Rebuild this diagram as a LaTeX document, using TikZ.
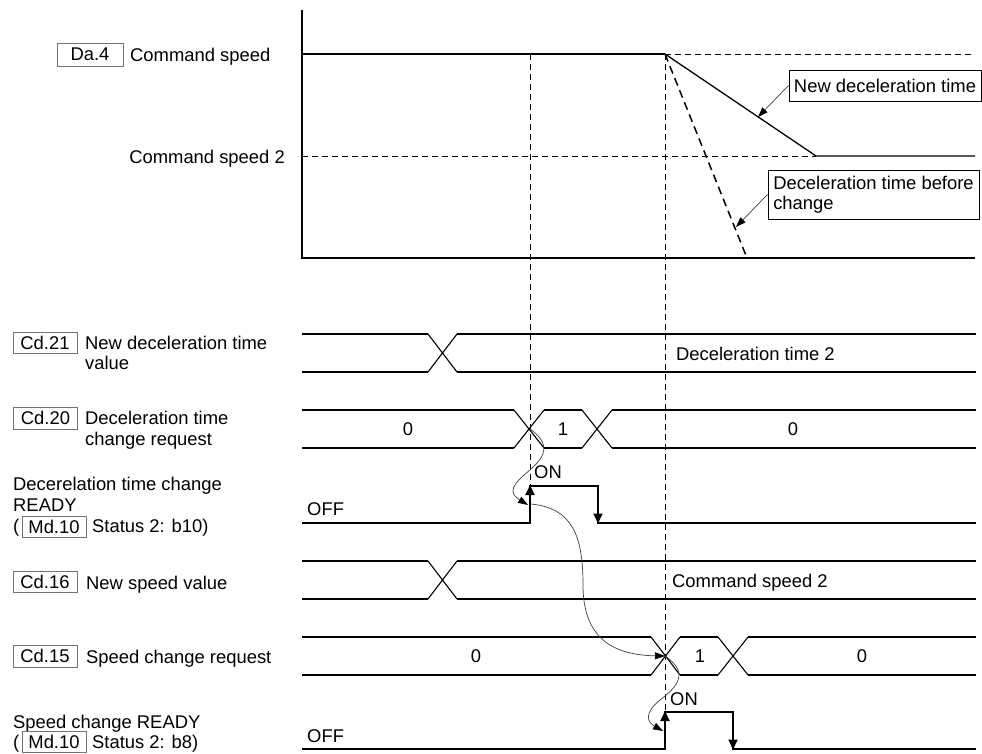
\documentclass[tikz,border=0pt]{standalone}
\usepackage{fontspec}
\setmainfont{Liberation Sans}
\usetikzlibrary{arrows.meta}
\begin{document}
\begin{tikzpicture}[x=1pt,y=-1pt,
  every node/.style={font=\fontsize{18.4}{20.5}\selectfont, inner sep=0pt},
  sig/.style={line width=1.8pt},
  xline/.style={line width=1.1pt},
  grid/.style={line width=0.9pt, dash pattern=on 6pt off 4pt},
  tag/.style={draw=black!55, line width=0.8pt, minimum width=64pt, minimum height=21pt, inner sep=0pt},
  callout/.style={draw, line width=1pt, inner sep=0pt, align=left},
  link/.style={black!75, line width=0.7pt, -{Triangle[length=10pt,width=7pt,color=black,fill=black]}},
  head/.style={sig, -{Triangle[length=10pt,width=9pt]}},
  lbl/.style={anchor=base west},
]
\useasboundingbox (0,0) rectangle (982,753);

% ---------------- top speed chart ----------------
\draw[line width=1.2pt] (302,10) -- (302,258) -- (975,258);
\draw[line width=1.5pt] (302,54) -- (665,54);
\draw[grid] (665,54) -- (975,54);
\draw[grid] (302,156) -- (816,156);
\draw[line width=1.3pt] (665,54) -- (816,156) -- (975,156);
\draw[line width=1.5pt, dash pattern=on 8pt off 5pt] (665,54) -- (747,258);

% vertical time markers
\draw[grid] (530,54) -- (530,486);
\draw[grid] (665,54) -- (665,712);

% callouts
\node[callout, minimum width=192pt, minimum height=31pt] (nd) at (885,85.5) {New deceleration time};
\node[callout, minimum width=211pt, minimum height=49pt] (bc) at (873.5,194.5) {Deceleration time before\\change};
\coordinate (p1) at (758,117);
\coordinate (p2) at (736,227);
\draw[link] (nd.west) -- (p1);
\draw[link] (bc.west) -- (p2);

% left labels of chart
\node[tag, minimum width=66pt, minimum height=23pt] (da4) at (90,54.5) {Da.4};
\node[lbl] (cs) at (130,61) {Command speed};
\node[anchor=base east] (cs2) at (285,163) {Command speed 2};

% ---------------- Cd.21 ----------------
\node[tag] (cd21) at (45,342.5) {Cd.21};
\node[lbl] (t21a) at (85,349) {New deceleration time};
\node[lbl] (t21b) at (85,369) {value};
\draw[sig] (302,334) -- (428,334) (457,334) -- (976,334);
\draw[sig] (302,372) -- (428,372) (457,372) -- (976,372);
\draw[xline] (428,334) -- (457,372) (428,372) -- (457,334);
\node[lbl] (v21) at (676,360) {Deceleration time 2};

% ---------------- Cd.20 ----------------
\node[tag, minimum height=22pt] (cd20) at (45.5,418) {Cd.20};
\node[lbl] (t20a) at (85,424) {Deceleration time};
\node[lbl] (t20b) at (85,445) {change request};
\draw[sig] (302,410) -- (514,410) (544,410) -- (582,410) (612,410) -- (976,410);
\draw[sig] (302,448) -- (514,448) (544,448) -- (582,448) (612,448) -- (976,448);
\draw[xline] (514,410) -- (544,448) (514,448) -- (544,410)
             (582,410) -- (612,448) (582,448) -- (612,410);
\node (v20a) at (408,429) {0};
\node (v20b) at (563,429) {1};
\node (v20c) at (793,429) {0};

% ---------------- Deceleration time change READY ----------------
\node[lbl] (tra) at (13,490) {Decerelation time change};
\node[lbl] (trb) at (13,511) {READY};
\node[lbl] (trc) at (13,532) {(};
\node[tag] (md10a) at (54,526.5) {Md.10};
\node[lbl] (trd) at (92,532) {Status 2: b10)};
\draw[sig] (302,523) -- (530,523) -- (530,486) -- (598,486) -- (598,523) -- (976,523);
\draw[head] (530,506) -- (530,485);
\draw[head] (598,503) -- (598,523.5);
\node[lbl] (off1) at (307,515) {OFF};
\node[lbl] (on1) at (534,478) {ON};

% ---------------- Cd.16 ----------------
\node[tag] (cd16) at (45,582) {Cd.16};
\node[lbl] (t16) at (86,589) {New speed value};
\draw[sig] (302,561) -- (428,561) (457,561) -- (976,561);
\draw[sig] (302,599) -- (428,599) (457,599) -- (976,599);
\draw[xline] (428,561) -- (457,599) (428,599) -- (457,561);
\node[lbl] (v16) at (672,587) {Command speed 2};

% ---------------- Cd.15 ----------------
\node[tag, minimum height=22pt] (cd15) at (45,656) {Cd.15};
\node[lbl] (t15) at (86,663) {Speed change request};
\draw[sig] (302,637) -- (651,637) (680,637) -- (718,637) (748,637) -- (976,637);
\draw[sig] (302,675) -- (651,675) (680,675) -- (718,675) (748,675) -- (976,675);
\draw[xline] (651,637) -- (680,675) (651,675) -- (680,637)
             (718,637) -- (748,675) (718,675) -- (748,637);
\node (v15a) at (476,656) {0};
\node (v15b) at (700,656) {1};
\node (v15c) at (862,656) {0};

% ---------------- Speed change READY ----------------
\node[lbl] (tsa) at (13,728) {Speed change READY};
\node[lbl] (tsb) at (13,748) {(};
\node[tag] (md10b) at (54,741.5) {Md.10};
\node[lbl] (tsc) at (92,748) {Status 2: b8)};
\draw[sig] (302,749) -- (665,749) -- (665,712) -- (733,712) -- (733,749) -- (976,749);
\draw[head] (665,732) -- (665,711);
\draw[head] (733,729) -- (733,749.5);
\node[lbl] (off2) at (307,742) {OFF};
\node[lbl] (on2) at (670,705) {ON};

% ---------------- cause/effect curves ----------------
\coordinate (x1) at (530,429);
\coordinate (r1) at (528,505);
\coordinate (r1s) at (531,504);
\coordinate (x2) at (665,656);
\coordinate (r2) at (663,731);
\draw[link] (x1) .. controls (555,447) and (542,460) .. (524,475)
               .. controls (508,489) and (512,495) .. (r1);
\draw[link] (r1s) .. controls (572,508) and (583,535) .. (583,585)
               .. controls (583,640) and (615,655) .. (x2);
\draw[link] (x2) .. controls (690,673) and (677,687) .. (660,700)
               .. controls (644,713) and (647,722) .. (r2);
\end{tikzpicture}
\end{document}
